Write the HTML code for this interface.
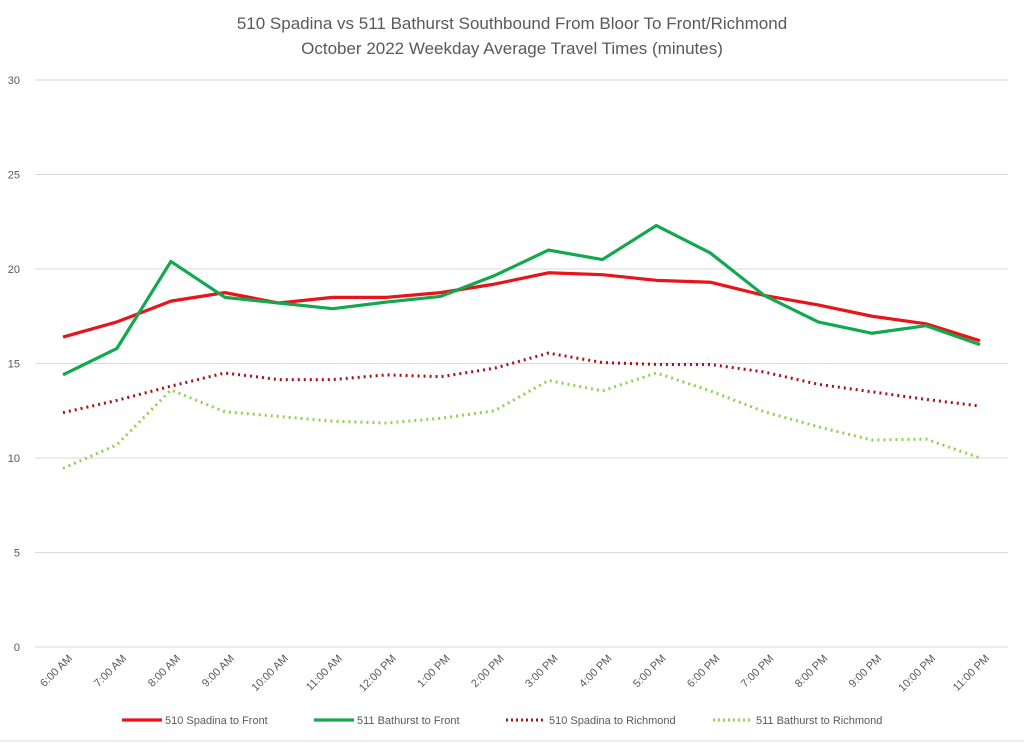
<!DOCTYPE html>
<html><head><meta charset="utf-8"><style>
body{margin:0;background:#fff;width:1024px;height:743px;overflow:hidden;font-family:"Liberation Sans",sans-serif}
</style></head><body>
<svg width="1024" height="743" id="c" font-family="Liberation Sans, sans-serif">
<text x="512" y="29" text-anchor="middle" font-size="17" fill="#595959">510 Spadina vs 511 Bathurst Southbound From Bloor To Front/Richmond</text>
<text x="512" y="54" text-anchor="middle" font-size="17" fill="#595959">October 2022 Weekday Average Travel Times (minutes)</text>
<line x1="0" y1="741" x2="1024" y2="741" stroke="#d9d9d9"/>
<g id="grid"></g><g id="xl"></g><g id="series"></g><g id="legend"></g>
</svg>
<script>
const categories=["6:00 AM","7:00 AM","8:00 AM","9:00 AM","10:00 AM","11:00 AM","12:00 PM","1:00 PM","2:00 PM","3:00 PM","4:00 PM","5:00 PM","6:00 PM","7:00 PM","8:00 PM","9:00 PM","10:00 PM","11:00 PM"];
const spadinaFront=[16.4,17.2,18.3,18.75,18.2,18.5,18.5,18.75,19.2,19.8,19.7,19.4,19.3,18.6,18.1,17.5,17.1,16.2];
const bathurstFront=[14.4,15.8,20.4,18.5,18.2,17.9,18.25,18.55,19.65,21.0,20.5,22.3,20.85,18.6,17.2,16.6,17.0,16.0];
const spadinaRichmond=[12.4,13.05,13.8,14.5,14.15,14.15,14.4,14.3,14.75,15.55,15.05,14.95,14.95,14.55,13.9,13.5,13.1,12.75];
const bathurstRichmond=[9.45,10.7,13.6,12.45,12.2,11.95,11.85,12.1,12.5,14.1,13.55,14.5,13.55,12.45,11.65,10.95,11.0,10.0];
const yTicks=[0,5,10,15,20,25,30];
const NS="http://www.w3.org/2000/svg";
function yS(v){return 647-v*18.9;}
function xS(i){return 63+i*(980-63)/(categories.length-1);}
function mk(tag,attrs,parent){const e=document.createElementNS(NS,tag);for(const k in attrs)e.setAttribute(k,attrs[k]);parent.appendChild(e);return e;}
const grid=document.getElementById('grid');
yTicks.forEach(t=>{
  const l=mk('line',{x1:35,x2:1008,y1:yS(t),y2:yS(t),stroke:'#d9d9d9','stroke-width':1},grid);
  
  
  const tx=mk('text',{x:20,y:yS(t)+4,'text-anchor':'end','font-size':11,fill:'#595959'},grid);
  tx.textContent=t;
  
  
});
const xl=document.getElementById('xl');
categories.forEach((c,i)=>{
  const x=xS(i)+10,y=659;
  const tx=mk('text',{x:x,y:y,'text-anchor':'end','font-size':11,fill:'#595959',transform:`rotate(-45 ${x} ${y})`},xl);
  tx.textContent=c;
  
  
});
const ser=document.getElementById('series');
const defs=[
 {d:spadinaFront,c:'#e8141a',w:3.2,dash:null,n:'510 Spadina to Front',id:'spadina-front'},
 {d:bathurstFront,c:'#12a84e',w:3.2,dash:null,n:'511 Bathurst to Front',id:'bathurst-front'},
 {d:spadinaRichmond,c:'#a8101a',w:3,dash:'2 4',n:'510 Spadina to Richmond',id:'spadina-richmond'},
 {d:bathurstRichmond,c:'#92d050',w:3,dash:'2 4',n:'511 Bathurst to Richmond',id:'bathurst-richmond'}];
[2,3,0,1].forEach(k=>{
  const s=defs[k];
  const p=mk('polyline',{points:s.d.map((v,i)=>xS(i)+','+yS(v)).join(' '),fill:'none',stroke:s.c,'stroke-width':s.w,'stroke-linejoin':'round'},ser);
  if(s.dash){p.setAttribute('stroke-dasharray',s.dash);}
  
  
});
const lg=document.getElementById('legend');
const lx=[122,314,506,713];
defs.forEach((s,k)=>{
  const l=mk('line',{x1:lx[k],x2:lx[k]+40,y1:720,y2:720,stroke:s.c,'stroke-width':s.w},lg);
  if(s.dash)l.setAttribute('stroke-dasharray','2 3');
  
  
  const t=mk('text',{x:lx[k]+43,y:724,'font-size':11,fill:'#595959'},lg);
  t.textContent=s.n;
  
  
});
</script>
</body></html>
